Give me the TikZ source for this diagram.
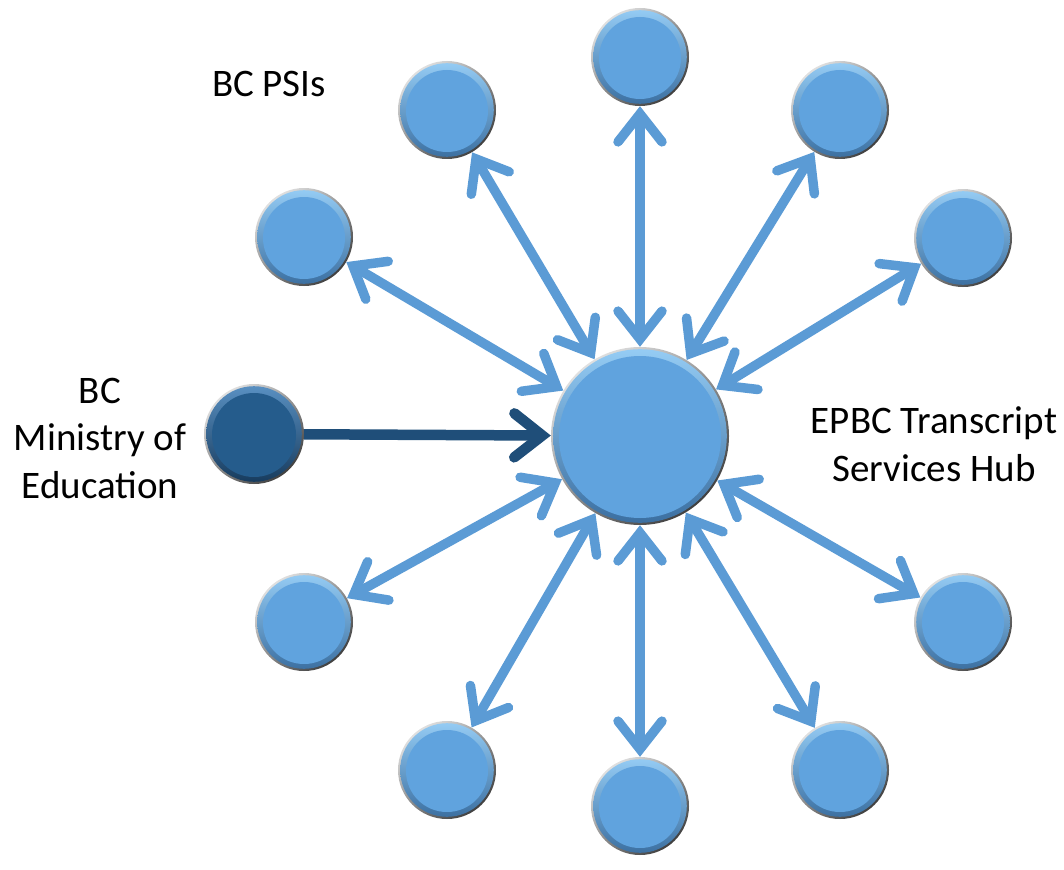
\documentclass[tikz,border=0pt]{standalone}
\usepackage{fontspec}
\setmainfont{Carlito}
\usetikzlibrary{arrows.meta,calc}
\definecolor{bbase}{RGB}{96,163,222}
\definecolor{bhi}{RGB}{150,205,245}
\definecolor{blo}{RGB}{58,110,160}
\definecolor{dbase}{RGB}{37,92,140}
\definecolor{dhi}{RGB}{90,145,195}
\definecolor{dlo}{RGB}{22,58,92}
\definecolor{spokecol}{RGB}{91,155,213}
\definecolor{darkarrow}{RGB}{31,78,121}
\tikzset{
  bubble/.style n args={4}{circle, inner sep=0pt, minimum size=#1,
    top color=black!12, bottom color=black!75, shading angle=40,
    path picture={
      \shade[top color=#3, bottom color=#4] let \p1=($(path picture bounding box.north east)-(path picture bounding box.center)$) in
        (path picture bounding box.center) circle ({\x1-2.2pt});
      \fill[#2] let \p1=($(path picture bounding box.north east)-(path picture bounding box.center)$) in
        ([yshift=-1pt]path picture bounding box.center) circle ({\x1-8pt});
    }},
  psi/.style={bubble={98pt}{bbase}{bhi}{blo}},
  hubnode/.style={bubble={178pt}{bbase}{bhi}{blo}},
  ministry/.style={bubble={100pt}{dbase}{dhi}{dlo}},
  spoke/.style={draw=spokecol, line width=9.5pt,
    {Straight Barb[length=28pt,width=44pt,line cap=round]}-{Straight Barb[length=28pt,width=44pt,line cap=round]}},
  feed/.style={draw=darkarrow, line width=10.5pt,
    -{Straight Barb[length=28pt,width=44pt,line cap=round]}},
  label/.style={font=\fontsize{39}{47.5}\selectfont, align=center, inner sep=0pt, text=black}
}
\begin{document}
\begin{tikzpicture}[x=1pt,y=-1pt]
\useasboundingbox (0,0) rectangle (1064,869);
\node[hubnode] (hub) at (640,436) {};
\node[psi] (p1) at (640,57) {};
\node[psi] (p2) at (447,110) {};
\node[psi] (p3) at (840,110) {};
\node[psi] (p4) at (304,237) {};
\node[psi] (p5) at (963,238) {};
\node[psi] (p6) at (304,622) {};
\node[psi] (p7) at (963,622) {};
\node[psi] (p8) at (447,770) {};
\node[psi] (p9) at (640,806) {};
\node[psi] (p10) at (840,770) {};
\node[ministry] (min) at (254,434) {};
\foreach \n in {p1,p2,p3,p4,p5,p6,p7,p8,p9,p10}
  \path[spoke] (hub) -- (\n);
\path[feed] (min) -- (hub);
\node[label, anchor=base] (lpsi) at (269,97) {BC PSIs};
\node[label] (lhub) at (934,444) {EPBC Transcript\\Services Hub};
\node[label] (lmin) at (100,438) {BC\\Ministry of\\Education};
\end{tikzpicture}
\end{document}
